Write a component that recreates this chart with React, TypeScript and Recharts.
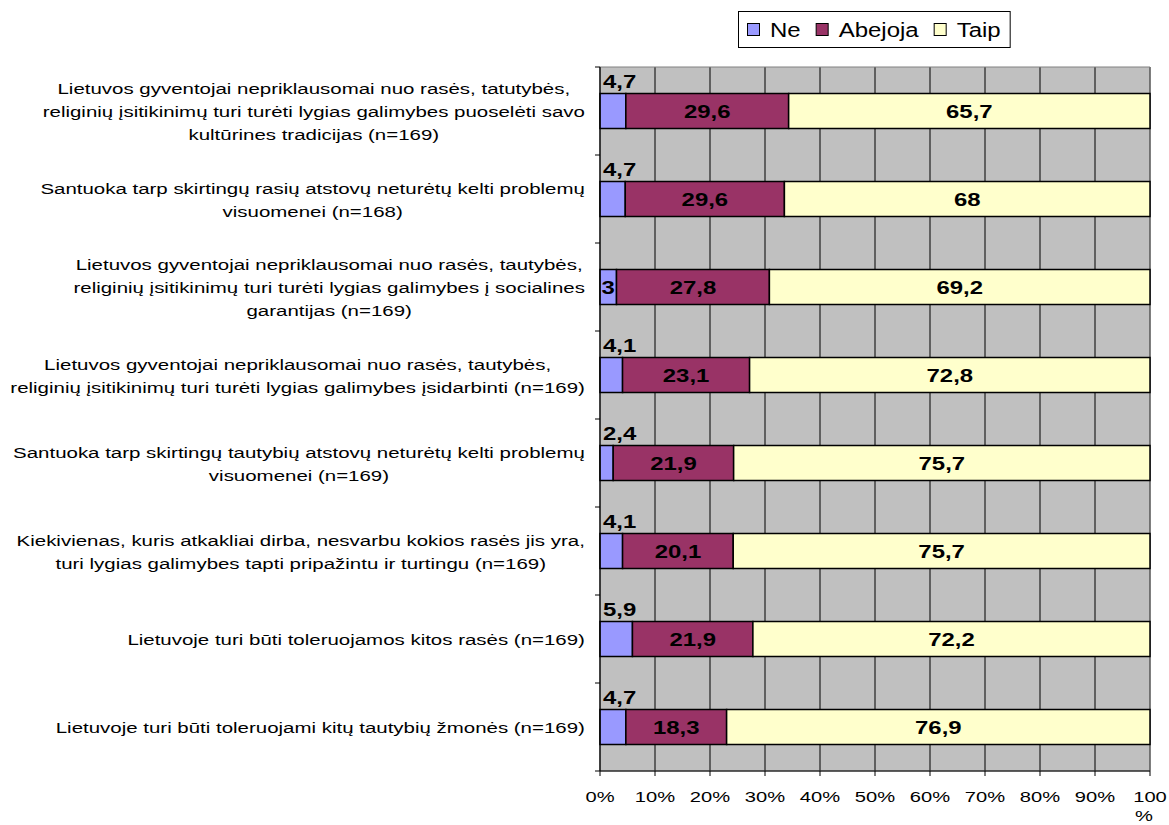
import { Bar, BarChart, CartesianGrid, LabelList, ReferenceArea, XAxis, YAxis } from 'recharts'

const CATEGORIES = [
  'Lietuvos gyventojai nepriklausomai nuo rasės, tatutybės,\nreliginių įsitikinimų turi turėti lygias galimybes puoselėti savo\nkultūrines tradicijas (n=169)',
  'Santuoka tarp skirtingų rasių atstovų neturėtų kelti problemų\nvisuomenei (n=168)',
  'Lietuvos gyventojai nepriklausomai nuo rasės, tautybės,\nreliginių įsitikinimų turi turėti lygias galimybes į socialines\ngarantijas (n=169)',
  'Lietuvos gyventojai nepriklausomai nuo rasės, tautybės,\nreliginių įsitikinimų turi turėti lygias galimybes įsidarbinti (n=169)',
  'Santuoka tarp skirtingų tautybių atstovų neturėtų kelti problemų\nvisuomenei (n=169)',
  'Kiekivienas, kuris atkakliai dirba, nesvarbu kokios rasės jis yra,\nturi lygias galimybes tapti pripažintu ir turtingu (n=169)',
  'Lietuvoje turi būti toleruojamos kitos rasės (n=169)',
  'Lietuvoje turi būti toleruojami kitų tautybių žmonės (n=169)',
]
const NE = [4.7, 4.7, 3, 4.1, 2.4, 4.1, 5.9, 4.7]
const ABEJOJA = [29.6, 29.6, 27.8, 23.1, 21.9, 20.1, 21.9, 18.3]
const TAIP = [65.7, 68, 69.2, 72.8, 75.7, 75.7, 72.2, 76.9]
const X_TICKS = [0, 0.1, 0.2, 0.3, 0.4, 0.5, 0.6, 0.7, 0.8, 0.9, 1]

const SERIES = [
  { key: 'ne', name: 'Ne', color: '#9999FF' },
  { key: 'abejoja', name: 'Abejoja', color: '#993366' },
  { key: 'taip', name: 'Taip', color: '#FFFFCC' },
]

const data = CATEGORIES.map((name, i) => ({ name, ne: NE[i], abejoja: ABEJOJA[i], taip: TAIP[i] }))

const FONT = '"Liberation Sans", Arial, sans-serif'
const W = 1169
const H = 825
const M = { top: 67, right: 19, bottom: 24, left: 0 }
const X_H = 30
const Y_W = 600
const PLOT_H = H - M.top - M.bottom - X_H
const BAND = PLOT_H / CATEGORIES.length

// the original picture is stretched sideways, so text gets a horizontal scale
const Y_FONT = { size: 15.5, sx: 1.32 }
const X_FONT = { size: 15.5, sx: 1.3 }
const LBL_FONT = { size: 18.4, sx: 1.3 }
const LEG_FONT = { size: 19.5, sx: 1.23 }

let ctx: CanvasRenderingContext2D | null = null
function measure(text: string, f: { size: number; sx: number }, weight = 'normal') {
  if (!ctx) ctx = document.createElement('canvas').getContext('2d')
  if (!ctx) return text.length * f.size * 0.5 * f.sx
  ctx.font = `${weight} ${f.size}px ${FONT}`
  return ctx.measureText(text).width * f.sx
}

const fmt = (v: number) => String(v).replace('.', ',')

function StretchText({ x, y, f, weight = 'normal', anchor = 'middle', children }: any) {
  return (
    <text
      transform={`translate(${x},${y}) scale(${f.sx},1)`}
      textAnchor={anchor}
      dominantBaseline="central"
      fontFamily={FONT}
      fontSize={f.size}
      fontWeight={weight}
      fill="#000"
    >
      {children}
    </text>
  )
}

function CategoryTick(props: any) {
  const { y, payload, index } = props
  const lines: string[] = String(payload.value).split('\n')
  const lh = 23
  const right = Y_W - 15
  const blockW = Math.max(...lines.map((l) => measure(l, Y_FONT)))
  const cx = right - blockW / 2
  const y0 = y - ((lines.length - 1) * lh) / 2 + 1
  return (
    <g>
      {lines.map((l, i) => (
        <StretchText key={i} x={cx} y={y0 + i * lh} f={Y_FONT}>{l}</StretchText>
      ))}
      <line x1={Y_W - 5} x2={Y_W} y1={y + BAND / 2} y2={y + BAND / 2} stroke="#000" />
      {index === 0 && <line x1={Y_W - 5} x2={Y_W} y1={y - BAND / 2} y2={y - BAND / 2} stroke="#000" />}
    </g>
  )
}

function PercentTick(props: any) {
  const { x, y, payload } = props
  const pct = Math.round(payload.value * 100)
  if (pct === 100) {
    return (
      <g>
        <StretchText x={x} y={y + 19} f={X_FONT}>100</StretchText>
        <StretchText x={x - 6} y={y + 38} f={X_FONT}>%</StretchText>
      </g>
    )
  }
  return <StretchText x={x} y={y + 19} f={X_FONT}>{`${pct}%`}</StretchText>
}

function InsideLabel(props: any) {
  const { x, y, width, height, value } = props
  return (
    <StretchText x={x + width / 2} y={y + height / 2 + 1} f={LBL_FONT} weight="bold">{fmt(value)}</StretchText>
  )
}

function NeLabel(props: any) {
  const { x, y, width, height, value } = props
  const text = fmt(value)
  const tw = measure(text, LBL_FONT, 'bold')
  if (tw + 2 < width) {
    return <StretchText x={x + width / 2} y={y + height / 2 + 1} f={LBL_FONT} weight="bold">{text}</StretchText>
  }
  return <StretchText x={x + 3} y={y - 11} f={LBL_FONT} weight="bold" anchor="start">{text}</StretchText>
}

function LegendBox() {
  let cx = 9
  const items = SERIES.map((s) => {
    const item = { ...s, mx: cx, tx: cx + 23 }
    cx += 23 + measure(s.name, LEG_FONT) + 15
    return item
  })
  const w = cx - 5
  return (
    <svg width={w} height={37} style={{ position: 'absolute', left: 738, top: 11 }}>
      <rect x={0.5} y={0.5} width={w - 1} height={36} fill="#fff" stroke="#000" />
      {items.map((it) => (
        <g key={it.key}>
          <rect x={it.mx + 0.5} y={12.5} width={12} height={12} fill={it.color} stroke="#000" />
          <StretchText x={it.tx} y={19} f={LEG_FONT} anchor="start">{it.name}</StretchText>
        </g>
      ))}
    </svg>
  )
}

export default function App() {
  return (
    <div style={{ position: 'absolute', left: 0, top: 0, width: W, height: H, background: '#fff' }}>
      <BarChart
        width={W}
        height={H}
        data={data}
        layout="vertical"
        stackOffset="expand"
        margin={M}
        barCategoryGap="30%"
      >
        <CartesianGrid horizontal={false} stroke="#000" fill="#C0C0C0" fillOpacity={1} />
        <ReferenceArea x1={0} x2={1} fill="none" stroke="#808080" ifOverflow="visible" />
        <XAxis
          type="number"
          domain={[0, 1]}
          ticks={X_TICKS}
          interval={0}
          height={X_H}
          tick={<PercentTick />}
          tickLine={{ stroke: '#000' }}
          tickSize={5}
          axisLine={{ stroke: '#000' }}
        />
        <YAxis
          type="category"
          dataKey="name"
          width={Y_W}
          tick={<CategoryTick />}
          tickLine={false}
          axisLine={{ stroke: '#000' }}
          interval={0}
        />
        <Bar dataKey="ne" name="Ne" stackId="a" fill="#9999FF" stroke="#000" strokeWidth={1.5} isAnimationActive={false}>
          <LabelList dataKey="ne" content={<NeLabel />} />
        </Bar>
        <Bar dataKey="abejoja" name="Abejoja" stackId="a" fill="#993366" stroke="#000" strokeWidth={1.5} isAnimationActive={false}>
          <LabelList dataKey="abejoja" content={<InsideLabel />} />
        </Bar>
        <Bar dataKey="taip" name="Taip" stackId="a" fill="#FFFFCC" stroke="#000" strokeWidth={1.5} isAnimationActive={false}>
          <LabelList dataKey="taip" content={<InsideLabel />} />
        </Bar>
      </BarChart>
      <LegendBox />
    </div>
  )
}
